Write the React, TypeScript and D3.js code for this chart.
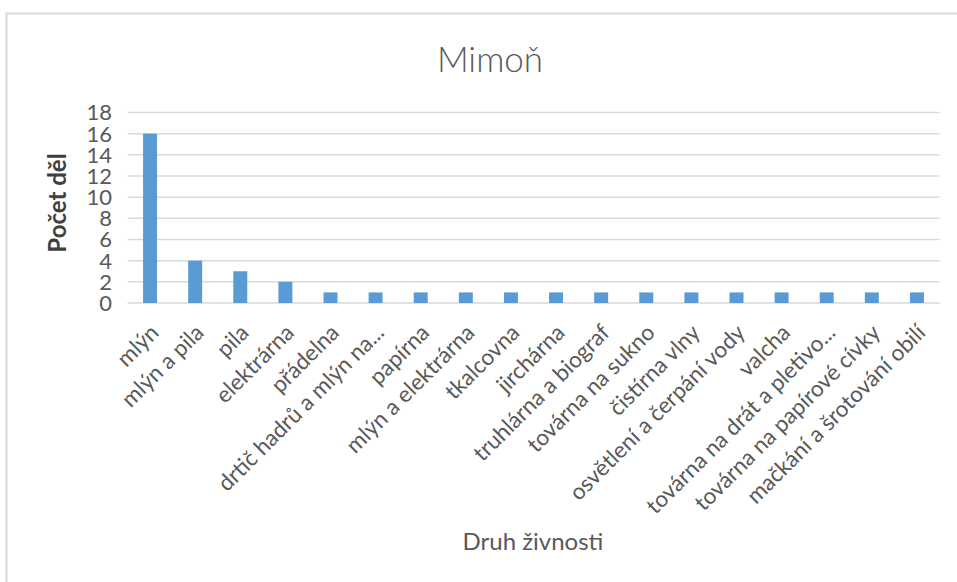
import React from "react";
import * as d3 from "d3";

const categories: string[] = [
  "mlýn",
  "mlýn a pila",
  "pila",
  "elektrárna",
  "přádelna",
  "drtič hadrů a mlýn na...",
  "papírna",
  "mlýn a elektrárna",
  "tkalcovna",
  "jirchárna",
  "truhlárna a biograf",
  "továrna na sukno",
  "čistírna vlny",
  "osvětlení a čerpání vody",
  "valcha",
  "továrna na drát a pletivo...",
  "továrna na papírové cívky",
  "mačkání a šrotování obilí",
];
const values: number[] = [16, 4, 3, 2, 1, 1, 1, 1, 1, 1, 1, 1, 1, 1, 1, 1, 1, 1];
const yTicks: number[] = [0, 2, 4, 6, 8, 10, 12, 14, 16, 18];
const title = "Mimoň";
const xTitle = "Druh živnosti";
const yTitle = "Počet děl";

const W = 957;
const H = 582;
const FONT = "Lato, 'Open Sans', sans-serif";

export default function App() {
  const left = 127.5;
  const right = 939.5;
  const top = 112.5;
  const bottom = 303;

  const x = d3
    .scaleBand<string>()
    .domain(categories)
    .range([left, right])
    .paddingInner(0.69)
    .paddingOuter(0.345);
  const y = d3.scaleLinear().domain([0, 18]).range([bottom, top]);

  return (
    <svg
      width={W}
      height={H}
      style={{ position: "absolute", left: 0, top: 0, background: "#fff" }}
      fontFamily={FONT}
    >
      <rect x={0} y={0} width={W} height={H} fill="#fff" />
      <rect
        x={6.5}
        y={13.5}
        width={W + 10}
        height={H + 10}
        fill="#fff"
        stroke="#d9d9d9"
        strokeWidth={2}
      />
      <text
        x={490}
        y={72}
        textAnchor="middle"
        fontSize={35}
        fontWeight={300}
        fill="#595959"
      >
        {title}
      </text>
      {yTicks.map((t) => (
        <g key={t}>
          <line
            x1={left}
            x2={right}
            y1={y(t)}
            y2={y(t)}
            stroke="#d9d9d9"
            strokeWidth={1.5}
          />
          <text
            x={112}
            y={y(t)}
            dy="0.36em"
            textAnchor="end"
            fontSize={22}
            fill="#595959"
          >
            {t}
          </text>
        </g>
      ))}
      {categories.map((c, i) => (
        <rect
          key={c}
          x={x(c)}
          y={y(values[i])}
          width={x.bandwidth()}
          height={y(0) - y(values[i])}
          fill="#5b9bd5"
        />
      ))}
      {categories.map((c) => {
        const cx = (x(c) as number) + x.bandwidth() / 2;
        return (
          <text
            key={"l" + c}
            transform={`translate(${cx + 10},${334}) rotate(-45)`}
            textAnchor="end"
            fontSize={22.5}
            fill="#595959"
          >
            {c}
          </text>
        );
      })}
      <text
        transform={`translate(66,203) rotate(-90)`}
        textAnchor="middle"
        fontSize={24}
        fontWeight={700}
        fill="#404040"
      >
        {yTitle}
      </text>
      <text x={533} y={550} textAnchor="middle" fontSize={24} fill="#595959">
        {xTitle}
      </text>
    </svg>
  );
}
